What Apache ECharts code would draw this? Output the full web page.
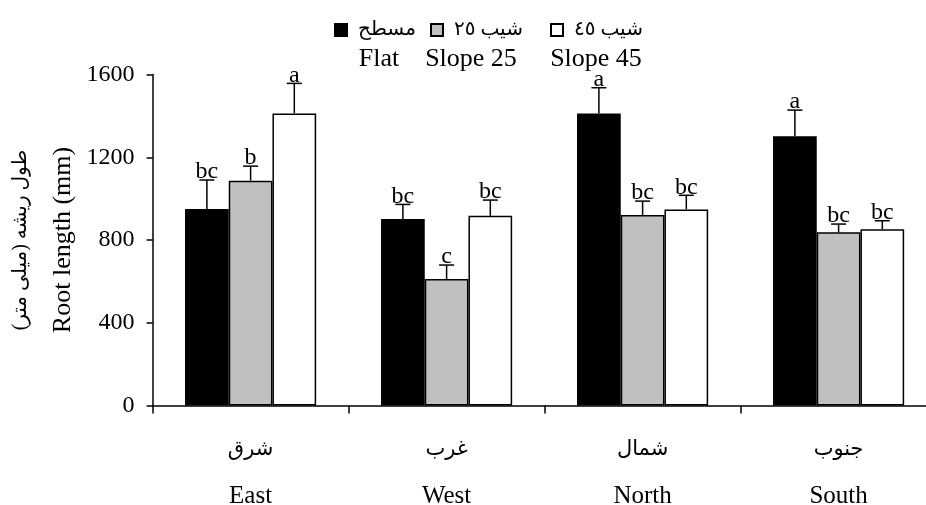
<!DOCTYPE html>
<html>
<head>
<meta charset="utf-8">
<script src="https://cdn.jsdelivr.net/npm/echarts@6/dist/echarts.min.js"></script>
<style>
  html, body { margin: 0; padding: 0; background: #fff; }
  #chart { width: 926px; height: 505px; }
</style>
</head>
<body>
<div id="chart"></div>
<script>
// Aspect categories (Persian / English)
const categoriesFa = ['شرق', 'غرب', 'شمال', 'جنوب'];
const categoriesEn = ['East', 'West', 'North', 'South'];

// Series names
const seriesEn = ['Flat', 'Slope 25', 'Slope 45'];
const seriesFa = ['مسطح', 'شیب ٢٥', 'شیب ٤٥'];

// Mean root length (mm)
const flatValues = [950, 901, 1412, 1302];
const slope25Values = [1087, 611, 921, 837];
const slope45Values = [1412, 917, 948, 852];

// Standard errors (mm)
const flatErrors = [140, 71, 124, 126];
const slope25Errors = [70, 68, 67, 40];
const slope45Errors = [145, 76, 68, 41];

// Mean-comparison letters
const flatLetters = ['bc', 'bc', 'a', 'a'];
const slope25Letters = ['b', 'c', 'bc', 'bc'];
const slope45Letters = ['a', 'bc', 'bc', 'bc'];

// Y axis ticks
const yTicks = [0, 400, 800, 1200, 1600];

const SERIF = "'Liberation Serif', 'Times New Roman', serif";
const ARABIC = "'Liberation Serif', 'DejaVu Sans', serif";
const BAR_RATIO = 0.223;
const fills = ['#000000', '#c0c0c0', '#ffffff'];

const values = [flatValues, slope25Values, slope45Values];
const errors = [flatErrors, slope25Errors, slope45Errors];
const letters = [flatLetters, slope25Letters, slope45Letters];

const chart = echarts.init(document.getElementById('chart'), null, { renderer: 'canvas' });

const barSeries = seriesEn.map((name, k) => ({
  name: name,
  type: 'bar',
  data: values[k],
  barWidth: (BAR_RATIO * 100) + '%',
  barGap: '0%',
  itemStyle: { color: fills[k], borderColor: '#000', borderWidth: 1.5 },
  emphasis: { disabled: true },
  z: 2
}));

// Error bars with significance letters, one custom series per treatment
const errorSeries = seriesEn.map((name, k) => ({
  name: name + ' error',
  type: 'custom',
  data: values[k].map((v, i) => [i, v, errors[k][i]]),
  encode: { x: 0, y: 1 },
  z: 5,
  silent: true,
  renderItem: function (params, api) {
    const i = api.value(0);
    const mean = api.value(1);
    const err = api.value(2);
    const bw = api.size([1, 0])[0] * BAR_RATIO;
    const base = api.coord([i, mean]);
    const top = api.coord([i, mean + err]);
    const x = base[0] + (k - 1) * bw;
    const lineStyle = { stroke: '#000', lineWidth: 1.5 };
    return {
      type: 'group',
      children: [
        { type: 'line', shape: { x1: x, y1: base[1], x2: x, y2: top[1] }, style: lineStyle },
        { type: 'line', shape: { x1: x - 7.5, y1: top[1], x2: x + 7.5, y2: top[1] }, style: lineStyle },
        {
          type: 'text', x: x, y: top[1] + 4,
          style: {
            text: letters[k][params.dataIndex], fill: '#000',
            font: '24px ' + SERIF, align: 'center', verticalAlign: 'bottom'
          }
        }
      ]
    };
  }
}));

// Legend: square + Persian name, English name printed underneath
const legendLeft = [334, 430, 550];
const legends = seriesEn.map((name, k) => ({
  data: [name],
  left: legendLeft[k],
  top: 20,
  padding: 0,
  icon: 'rect',
  itemWidth: 12,
  itemHeight: 12,
  selectedMode: false,
  formatter: () => seriesFa[k],
  textStyle: { fontFamily: ARABIC, fontSize: 20, color: '#000', padding: [0, 0, 0, 6] }
}));

const englishLegendX = [379, 471, 596];

chart.setOption({
  backgroundColor: '#ffffff',
  animation: false,
  legend: legends,
  graphic: seriesEn.map((name, k) => ({
    type: 'text',
    x: englishLegendX[k],
    y: 46,
    style: { text: name, fill: '#000', font: '26px ' + SERIF, align: 'center', verticalAlign: 'top' }
  })),
  grid: { left: 152.6, top: 74.5, width: 784, height: 331, containLabel: false, outerBoundsMode: 'none' },
  xAxis: {
    type: 'category',
    data: categoriesEn,
    boundaryGap: true,
    axisLine: { lineStyle: { color: '#000', width: 1.5 } },
    axisTick: { show: true, length: 8, inside: false, alignWithLabel: false, lineStyle: { color: '#000', width: 1.5 } },
    axisLabel: {
      margin: 24,
      interval: 0,
      formatter: (value, idx) => '{fa|' + categoriesFa[idx] + '}\n{en|' + value + '}',
      rich: {
        fa: { fontFamily: ARABIC, fontSize: 21, color: '#000', lineHeight: 40 },
        en: { fontFamily: SERIF, fontSize: 25, color: '#000', lineHeight: 54 }
      }
    },
    splitLine: { show: false }
  },
  yAxis: {
    type: 'value',
    min: yTicks[0],
    max: yTicks[yTicks.length - 1],
    interval: yTicks[1] - yTicks[0],
    name: '{fa|طول ریشه (میلی متر)}\n{en|Root length (mm)}',
    nameLocation: 'middle',
    nameRotate: 90,
    nameGap: 65,
    nameTextStyle: {
      rich: {
        fa: { fontFamily: ARABIC, fontSize: 20, color: '#000', lineHeight: 44 },
        en: { fontFamily: SERIF, fontSize: 26, color: '#000', lineHeight: 40 }
      }
    },
    axisLine: { show: true, lineStyle: { color: '#000', width: 1.5 } },
    axisTick: { show: true, length: 6, inside: false, lineStyle: { color: '#000', width: 1.5 } },
    axisLabel: { margin: 18, fontFamily: SERIF, fontSize: 24, color: '#000', formatter: v => String(v) },
    splitLine: { show: false }
  },
  series: barSeries.concat(errorSeries)
});
</script>
</body>
</html>
